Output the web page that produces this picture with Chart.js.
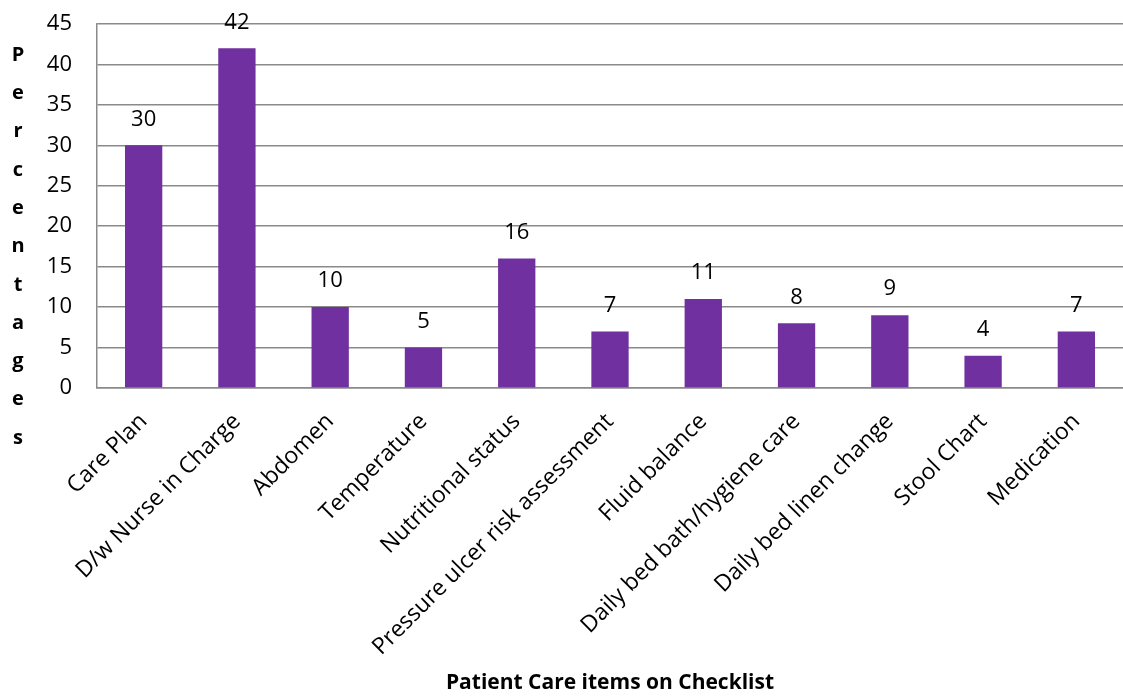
<!DOCTYPE html>
<html>
<head>
<meta charset="utf-8">
<script src="https://cdn.jsdelivr.net/npm/chart.js@4.4.0/dist/chart.umd.min.js"></script>
<style>
  html, body { margin: 0; padding: 0; background: #fff; }
  #wrap { width: 1123px; height: 698px; }
</style>
</head>
<body>
<div id="wrap"><canvas id="careChart" width="1123" height="698"></canvas></div>
<script>
// categories and values
const categories = [
  'Care Plan', 'D/w Nurse in Charge', 'Abdomen', 'Temperature', 'Nutritional status',
  'Pressure ulcer risk assessment', 'Fluid balance', 'Daily bed bath/hygiene care',
  'Daily bed linen change', 'Stool Chart', 'Medication'
];
const percentages = [30, 42, 10, 5, 16, 7, 11, 8, 9, 4, 7];
const yTickValues = [0, 5, 10, 15, 20, 25, 30, 35, 40, 45];
const yTitle = 'Percentages';
const xTitle = 'Patient Care items on Checklist';

const FONT = '"Open Sans", Lato, sans-serif';
const gridGray = '#8a8a8a';

// value labels above each bar
const barLabels = {
  id: 'barLabels',
  afterDatasetsDraw(chart) {
    const ctx = chart.ctx;
    const meta = chart.getDatasetMeta(0);
    ctx.save();
    ctx.font = '22px ' + FONT;
    ctx.fillStyle = '#000';
    ctx.textAlign = 'center';
    ctx.textBaseline = 'middle';
    meta.data.forEach((bar, i) => {
      ctx.fillText(String(chart.data.datasets[0].data[i]), bar.x, bar.y - 26);
    });
    ctx.restore();
  }
};

// stacked vertical y-axis title, one letter per line
const stackedTitle = {
  id: 'stackedTitle',
  afterDraw(chart) {
    const ctx = chart.ctx;
    const top = chart.chartArea.top + 31;
    ctx.save();
    ctx.font = 'bold 20px ' + FONT;
    ctx.fillStyle = '#000';
    ctx.textAlign = 'center';
    ctx.textBaseline = 'middle';
    yTitle.split('').forEach((ch, i) => {
      ctx.fillText(ch, 18, top + i * 38.3);
    });
    ctx.restore();
  }
};

new Chart(document.getElementById('careChart'), {
  type: 'bar',
  data: {
    labels: categories,
    datasets: [{
      data: percentages,
      backgroundColor: '#7030a0',
      borderWidth: 0,
      categoryPercentage: 1,
      barPercentage: 0.4
    }]
  },
  options: {
    responsive: false,
    animation: false,
    layout: { padding: { top: 24, right: 0, bottom: 2, left: 0 } },
    plugins: {
      legend: { display: false },
      tooltip: { enabled: false }
    },
    scales: {
      y: {
        min: 0,
        max: 45,
        afterBuildTicks(scale) {
          scale.ticks = yTickValues.map(v => ({ value: v }));
        },
        afterFit(scale) {
          scale.width = 97;
          scale.paddingTop = 0;
          scale.paddingBottom = 0;
        },
        ticks: {
          font: { family: FONT, size: 22 },
          color: '#000',
          padding: 25
        },
        grid: { color: gridGray, lineWidth: 1.5, drawTicks: false },
        border: { display: true, color: gridGray, width: 1.5 }
      },
      x: {
        afterFit(scale) {
          scale.height = 308;
          scale.paddingTop = 0;
        },
        ticks: {
          font: { family: FONT, size: 23 },
          color: '#000',
          minRotation: 45,
          maxRotation: 45,
          autoSkip: false,
          padding: 20
        },
        grid: { display: false, drawTicks: false },
        border: { display: true, color: gridGray, width: 1.5 },
        title: {
          display: true,
          text: xTitle,
          font: { family: FONT, size: 21, weight: 'bold' },
          color: '#000',
          padding: { top: 0, bottom: 0 }
        }
      }
    }
  },
  plugins: [barLabels, stackedTitle]
});
</script>
</body>
</html>
